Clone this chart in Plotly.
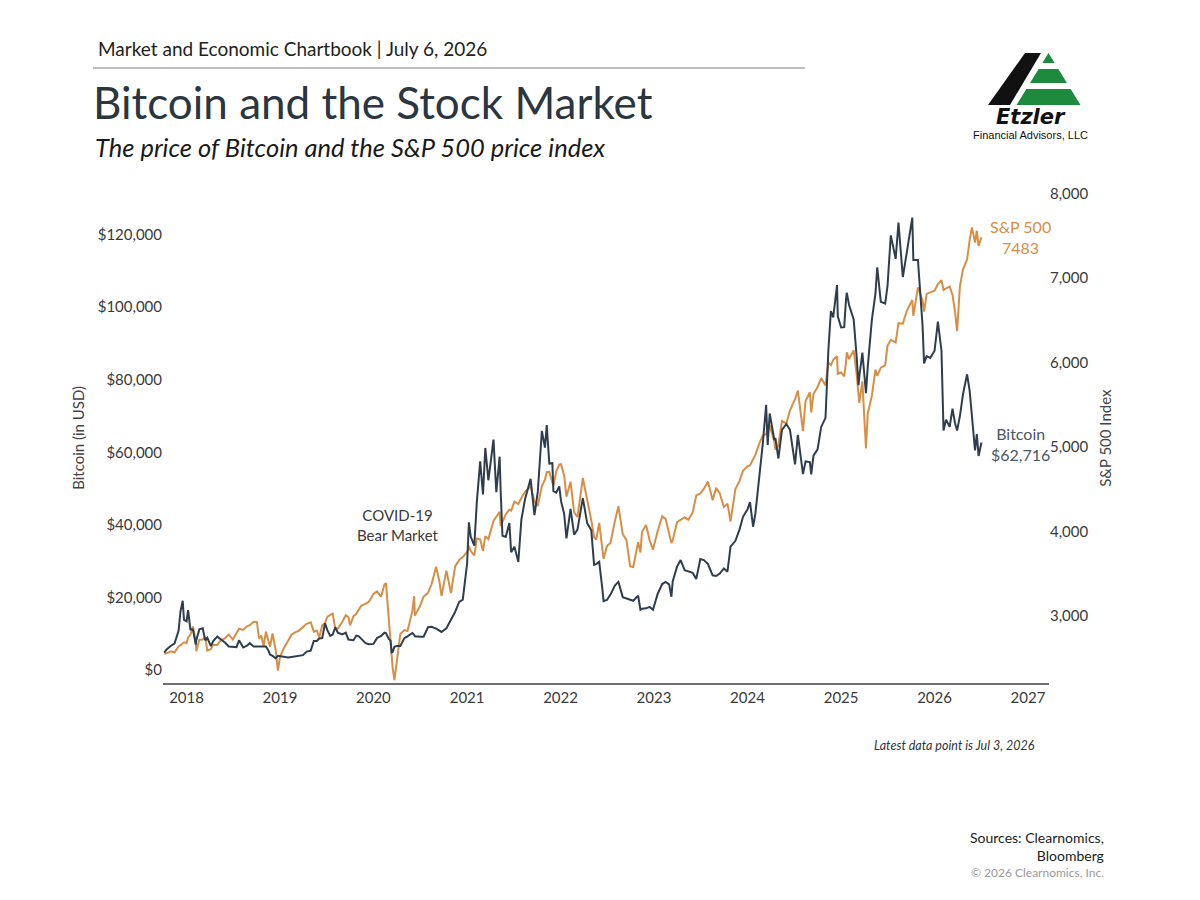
import plotly.graph_objects as go

# ---------------- DATA ----------------
dates = [
    # 2017
    "2017-10-06", "2017-10-15", "2017-11-01", "2017-11-15", "2017-12-01", "2017-12-08", "2017-12-17", "2017-12-22",
    # 2018
    "2018-01-01", "2018-01-07", "2018-01-16", "2018-01-26", "2018-02-06", "2018-02-08", "2018-02-20", "2018-03-05",
    "2018-03-15", "2018-03-23", "2018-04-06", "2018-04-15", "2018-05-01", "2018-05-15", "2018-06-01", "2018-06-15",
    "2018-07-01", "2018-07-15", "2018-07-25", "2018-08-10", "2018-08-25", "2018-09-05", "2018-09-20", "2018-10-03",
    "2018-10-11", "2018-10-20", "2018-10-29", "2018-11-07", "2018-11-15", "2018-11-23", "2018-12-03", "2018-12-15",
    "2018-12-24",
    # 2019
    "2019-01-01", "2019-01-15", "2019-02-01", "2019-02-15", "2019-03-01", "2019-03-15", "2019-04-01", "2019-04-15",
    "2019-05-01", "2019-05-13", "2019-05-25", "2019-06-03", "2019-06-15", "2019-06-26", "2019-07-05", "2019-07-16",
    "2019-07-26", "2019-08-05", "2019-08-15", "2019-09-01", "2019-09-15", "2019-09-25", "2019-10-02", "2019-10-15",
    "2019-10-26", "2019-11-05", "2019-11-15", "2019-12-01", "2019-12-15",
    # 2020
    "2020-01-01", "2020-01-15", "2020-01-31", "2020-02-13", "2020-02-19", "2020-03-01", "2020-03-08", "2020-03-12",
    "2020-03-16", "2020-03-23", "2020-04-01", "2020-04-15", "2020-05-01", "2020-05-13", "2020-06-01", "2020-06-08",
    "2020-06-11", "2020-07-01", "2020-07-15", "2020-08-01", "2020-08-15", "2020-09-02", "2020-09-15", "2020-09-23",
    "2020-10-12", "2020-10-30", "2020-11-15", "2020-12-01", "2020-12-15",
    # 2021
    "2021-01-01", "2021-01-08", "2021-01-15", "2021-01-29", "2021-02-08", "2021-02-21", "2021-03-04", "2021-03-13",
    "2021-03-25", "2021-04-14", "2021-04-25", "2021-05-08", "2021-05-12", "2021-05-19", "2021-06-01", "2021-06-15",
    "2021-06-22", "2021-07-05", "2021-07-20", "2021-08-01", "2021-08-15", "2021-09-06", "2021-09-21", "2021-10-04",
    "2021-10-20", "2021-11-01", "2021-11-08", "2021-11-18", "2021-11-30", "2021-12-04", "2021-12-15", "2021-12-27",
    # 2022
    "2022-01-03", "2022-01-15", "2022-01-24", "2022-02-09", "2022-02-23", "2022-03-08", "2022-03-29", "2022-04-15",
    "2022-05-01", "2022-05-12", "2022-05-20", "2022-06-01", "2022-06-13", "2022-06-18", "2022-07-01", "2022-07-15",
    "2022-08-01", "2022-08-15", "2022-09-01", "2022-09-15", "2022-09-30", "2022-10-12", "2022-10-31", "2022-11-09",
    "2022-11-15", "2022-12-01", "2022-12-15", "2022-12-28",
    # 2023
    "2023-01-15", "2023-02-02", "2023-02-15", "2023-03-01", "2023-03-10", "2023-03-15", "2023-04-01", "2023-04-15",
    "2023-05-01", "2023-05-15", "2023-06-01", "2023-06-15", "2023-07-01", "2023-07-15", "2023-07-31", "2023-08-18",
    "2023-09-01", "2023-09-15", "2023-10-01", "2023-10-15", "2023-10-27", "2023-11-15", "2023-12-01", "2023-12-15",
    # 2024
    "2024-01-01", "2024-01-11", "2024-01-23", "2024-02-01", "2024-02-15", "2024-03-01", "2024-03-14", "2024-03-20",
    "2024-03-28", "2024-04-15", "2024-04-19", "2024-05-01", "2024-05-15", "2024-06-01", "2024-06-15", "2024-07-05",
    "2024-07-16", "2024-08-05", "2024-08-15", "2024-09-01", "2024-09-06", "2024-09-15", "2024-10-01", "2024-10-15",
    "2024-11-01", "2024-11-12", "2024-11-22", "2024-12-01", "2024-12-16", "2024-12-19",
    # 2025
    "2025-01-01", "2025-01-13", "2025-01-20", "2025-01-23", "2025-02-01", "2025-02-19", "2025-03-03", "2025-03-10",
    "2025-03-13", "2025-03-25", "2025-04-08", "2025-04-15", "2025-05-01", "2025-05-15", "2025-05-22", "2025-06-05",
    "2025-06-22", "2025-07-01", "2025-07-14", "2025-08-02", "2025-08-13", "2025-08-30", "2025-09-15", "2025-10-06",
    "2025-10-10", "2025-10-28", "2025-11-15", "2025-11-21", "2025-12-01", "2025-12-15",
    # 2026
    "2026-01-01", "2026-01-14", "2026-01-28", "2026-02-05", "2026-02-15", "2026-03-01", "2026-03-12", "2026-03-22",
    "2026-03-30", "2026-04-10", "2026-04-22", "2026-05-08", "2026-05-18", "2026-05-27", "2026-06-08", "2026-06-15",
    "2026-06-22", "2026-07-03",
]

bitcoin_usd = [
    # 2017
    4800, 5700, 6700, 7300, 10900, 16000, 19100, 13800,
    # 2018
    13400, 16500, 11200, 11200, 7000, 8200, 11200, 11500,
    8200, 8900, 6600, 8000, 9200, 8500, 7500, 6500,
    6400, 6300, 8200, 6200, 6700, 7400, 6500, 6500,
    6300, 6400, 6300, 6500, 5600, 4300, 3900, 3250,
    3900,
    # 2019
    3800, 3600, 3450, 3600, 3800, 3900, 4100, 5100,
    5350, 8000, 8000, 8700, 8800, 12900, 11000, 9400,
    9800, 11800, 10300, 9800, 10300, 8400, 8300, 8200,
    9500, 9300, 8600, 7400, 7100,
    # 2020
    7200, 8800, 9400, 10300, 10200, 8600, 8100, 4900,
    5000, 6400, 6600, 6600, 8800, 9300, 10200, 9700,
    9300, 9200, 9200, 11800, 11900, 11400, 10800, 10500,
    11500, 13800, 16000, 18800, 19400,
    # 2021
    29400, 40700, 36800, 34300, 46400, 57500, 48400, 61200,
    52300, 63500, 49000, 58800, 49500, 37000, 36700, 40500,
    32500, 34000, 29800, 41500, 47000, 52700, 42700, 49100,
    65900, 61300, 67500, 56900, 57000, 49300, 48900, 50600,
    # 2022
    46500, 43100, 36300, 44400, 37300, 38700, 47400, 40500,
    38500, 29000, 29200, 29800, 22500, 19000, 19300, 20800,
    23300, 24300, 20100, 19700, 19400, 19100, 20500, 16600,
    16900, 17000, 17400, 16600,
    # 2023
    20900, 23700, 24300, 23600, 20200, 24400, 28500, 30300,
    27500, 27200, 26800, 25100, 30600, 30300, 29200, 26100,
    25900, 26600, 28000, 27100, 34000, 35600, 38700, 42300,
    # 2024
    44200, 46300, 39500, 43100, 51800, 62400, 73100, 62000,
    70700, 63400, 64000, 58300, 66200, 67800, 66200, 56700,
    64800, 54000, 57500, 57300, 53900, 59100, 60800, 67000,
    69500, 88000, 98900, 97200, 106100, 97500,
    # 2025
    94400, 94500, 102000, 104000, 100600, 96600, 86000, 78500,
    80900, 87500, 76300, 83600, 96500, 103700, 111000, 101500,
    101000, 105700, 119800, 113300, 123300, 108300, 115300, 124700,
    113000, 113000, 95000, 84500, 86500, 86000,
    # 2026
    88000, 96000, 88000, 66000, 69000, 67000, 72000, 68000,
    66000, 70000, 76000, 81500, 77000, 70000, 60500, 65000,
    59000, 62716,
]

sp500_index = [
    # 2017
    2550, 2555, 2580, 2565, 2640, 2650, 2675, 2685,
    # 2018
    2674, 2743, 2776, 2873, 2695, 2581, 2716, 2720,
    2747, 2588, 2604, 2656, 2655, 2711, 2735, 2779,
    2718, 2801, 2846, 2833, 2875, 2888, 2930, 2925,
    2728, 2767, 2641, 2813, 2730, 2633, 2790, 2600,
    2351,
    # 2019
    2510, 2610, 2707, 2775, 2803, 2822, 2867, 2905,
    2923, 2812, 2826, 2744, 2886, 2913, 2990, 3004,
    3025, 2845, 2848, 2926, 3007, 2984, 2887, 2996,
    3023, 3075, 3120, 3141, 3168,
    # 2020
    3258, 3289, 3226, 3373, 3386, 2954, 2746, 2481,
    2386, 2237, 2470, 2783, 2830, 2820, 3055, 3232,
    3002, 3115, 3227, 3271, 3373, 3580, 3401, 3237,
    3535, 3270, 3585, 3662, 3695,
    # 2021
    3756, 3824, 3768, 3714, 3915, 3906, 3768, 3943,
    3909, 4124, 4180, 4232, 4063, 4116, 4202, 4255,
    4246, 4352, 4323, 4395, 4468, 4535, 4354, 4300,
    4536, 4613, 4701, 4705, 4567, 4538, 4709, 4791,
    # 2022
    4796, 4663, 4410, 4587, 4225, 4170, 4631, 4392,
    4132, 3930, 3901, 4101, 3750, 3675, 3825, 3863,
    4118, 4297, 3966, 3901, 3585, 3577, 3872, 3749,
    3991, 4076, 3895, 3783,
    # 2023
    3999, 4179, 4148, 3951, 3862, 3892, 4109, 4137,
    4167, 4136, 4221, 4425, 4450, 4505, 4589, 4370,
    4515, 4450, 4288, 4327, 4117, 4502, 4595, 4719,
    # 2024
    4770, 4780, 4865, 4906, 5030, 5137, 5150, 5225,
    5254, 5061, 4967, 5018, 5308, 5278, 5431, 5567,
    5667, 5186, 5543, 5648, 5408, 5626, 5709, 5815,
    5728, 6001, 5969, 6032, 6074, 5867,
    # 2025
    5882, 5836, 5996, 6119, 6040, 6144, 5850, 5614,
    5521, 5776, 4982, 5396, 5604, 5916, 5842, 5939,
    5967, 6198, 6269, 6238, 6466, 6460, 6615, 6740,
    6552, 6890, 6734, 6602, 6812, 6830,
    # 2026
    6850, 6930, 6975, 6860, 6880, 6900, 6800, 6600,
    6370, 6900, 7100, 7220, 7450, 7600, 7420, 7560,
    7380, 7483,
]

year_labels = ["2018", "2019", "2020", "2021", "2022", "2023", "2024", "2025", "2026", "2027"]
btc_ticks = [0, 20000, 40000, 60000, 80000, 100000, 120000]
btc_tick_labels = ["$0", "$20,000", "$40,000", "$60,000", "$80,000", "$100,000", "$120,000"]
spx_ticks = [3000, 4000, 5000, 6000, 7000, 8000]
spx_tick_labels = ["3,000", "4,000", "5,000", "6,000", "7,000", "8,000"]

# ---------------- STYLE ----------------
W, H = 1200, 900
FONT = "Lato"
ORANGE = "#d98e45"
SLATE = "#2f3e4e"
TEXT = "#333333"
GREEN = "#1e8a3e"


def px(x):
    return x / W


def py(y):
    # pixel (from top) -> paper fraction, with a small calibration of the vertical scale
    return 1 - ((y - 7) / 0.9915) / H


fig = go.Figure()
fig.add_trace(go.Scatter(x=dates, y=sp500_index, mode="lines", yaxis="y",
                         line=dict(color=ORANGE, width=2), name="S&P 500", hoverinfo="x+y"))
fig.add_trace(go.Scatter(x=dates, y=bitcoin_usd, mode="lines", yaxis="y2",
                         line=dict(color=SLATE, width=2), name="Bitcoin", hoverinfo="x+y"))

tick_font = dict(family=FONT, size=15, color="#3a3a3a")

fig.update_layout(
    width=W, height=H,
    margin=dict(l=0, r=0, t=0, b=0),
    paper_bgcolor="white", plot_bgcolor="white",
    showlegend=False,
    font=dict(family=FONT, color=TEXT),
    xaxis=dict(
        domain=[px(163), px(1049)],
        type="date",
        range=["2017-10-01", "2027-03-24"],
        tickvals=[f"{y}-01-01" for y in year_labels],
        ticktext=year_labels,
        showline=True, linecolor="#6e6e6e", linewidth=2,
        showgrid=False, zeroline=False, ticks="",
        ticklabelstandoff=0,
        tickfont=tick_font,
    ),
    yaxis=dict(
        domain=[py(682), py(191)],
        anchor="x", side="right",
        range=[2207, 8020],
        tickvals=spx_ticks, ticktext=spx_tick_labels,
        showgrid=False, zeroline=False, showline=False, ticks="",
        tickfont=tick_font,
    ),
    yaxis2=dict(
        overlaying="y", anchor="x", side="left",
        range=[-3499, 131763],
        tickvals=btc_ticks, ticktext=btc_tick_labels,
        showgrid=False, zeroline=False, showline=False, ticks="",
        tickfont=tick_font,
    ),
)


def note(text, x, y, size, color=TEXT, xanchor="left", yanchor="middle", family=FONT,
         align="left", angle=0):
    fig.add_annotation(text=text, x=px(x), y=py(y), xref="paper", yref="paper",
                       xanchor=xanchor, yanchor=yanchor, showarrow=False, align=align,
                       textangle=angle, font=dict(family=family, size=size, color=color))


# header
note("Market and Economic Chartbook | July 6, 2026", 96, 48, 19, "#222222")
fig.add_shape(type="line", xref="paper", yref="paper", x0=px(93), x1=px(805), y0=py(67), y1=py(67),
              line=dict(color="#a8a8a8", width=1.5))
note("Bitcoin and the Stock Market", 91, 101, 44, "#2b3640")
note("<i>The price of Bitcoin and the S&P 500 price index</i>", 93, 146, 25.5, "#1a1a1a")

# in-chart labels
note("COVID-19<br>Bear Market", 398, 524, 15, "#3a3a3a", xanchor="center", align="center")
note("S&P 500<br>7483", 1020, 236, 16, ORANGE, xanchor="center", align="center")
note("Bitcoin<br>$62,716", 1020, 443, 16, "#4a5866", xanchor="center", align="center")

# axis titles
note("Bitcoin (in USD)", 78, 437, 15, "#444444", xanchor="center", angle=-90)
note("S&P 500 Index", 1105, 437, 15, "#444444", xanchor="center", angle=-90)

# footer
note("<i>Latest data point is Jul 3, 2026</i>", 1037, 745, 12.5, "#333333", xanchor="right")
note("Sources: Clearnomics,<br>Bloomberg", 1106, 846, 14, "#222222", xanchor="right", align="right")
note("© 2026 Clearnomics, Inc.", 1106, 872, 12, "#9a9a9a", xanchor="right")


# ---------------- LOGO ----------------
def poly(points, color):
    path = "M " + " L ".join(f"{px(x):.5f},{py(y):.5f}" for x, y in points) + " Z"
    fig.add_shape(type="path", xref="paper", yref="paper", path=path,
                  fillcolor=color, line=dict(width=0))


poly([(1025, 52), (1041, 52), (1010, 104), (988, 104)], "#111111")

apex_x, apex_y, base_y, half_base = 1048.5, 52, 104, 32


def half(y):
    return half_base * (y - apex_y) / (base_y - apex_y)


for y0, y1 in [(52, 62), (68, 82), (88, 104)]:
    poly([(apex_x - half(y0), y0), (apex_x + half(y0), y0),
          (apex_x + half(y1), y1), (apex_x - half(y1), y1)], GREEN)

note("<b><i>Etzler</i></b>", 1031, 116, 21, "#111111", xanchor="center", family="DejaVu Sans")
note("Financial Advisors, LLC", 1030, 134, 11, "#111111", xanchor="center", family="Liberation Sans")

fig.write_html("out.html")
